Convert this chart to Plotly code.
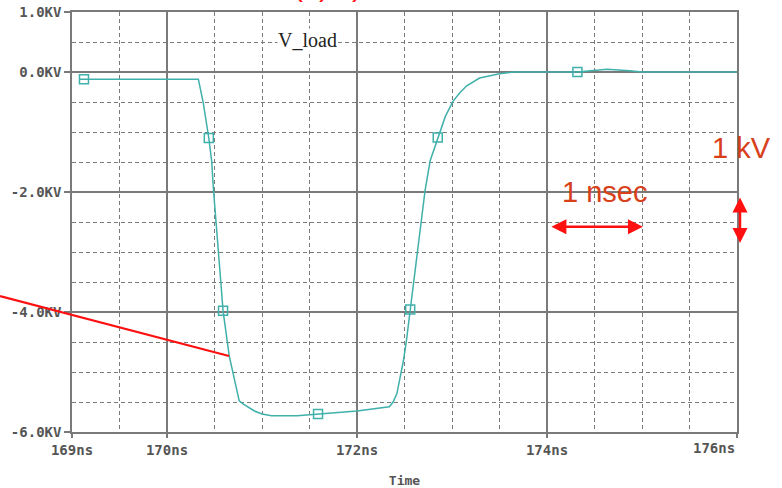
import plotly.graph_objects as go

# ---- data (time in ns, voltage in kV) ----
time_ns = [169.084, 170.33, 170.38, 170.44, 170.47, 170.49, 170.565, 170.59, 170.655, 170.69,
           170.716, 170.76, 170.8, 170.84, 170.92, 171.0, 171.1, 171.37, 171.59, 172.0, 172.34,
           172.38, 172.42, 172.45, 172.49, 172.52, 172.56, 172.6, 172.69, 172.716, 172.77,
           172.85, 172.93, 173.01, 173.08, 173.155, 173.29, 173.5, 173.65, 174.32, 174.48, 174.63,
           174.87, 175.0, 176.0]
v_load_kv = [-0.12, -0.12, -0.5, -1.1, -1.48, -1.98, -3.47, -3.98, -4.73, -4.98,
             -5.22, -5.48, -5.53, -5.57, -5.65, -5.70, -5.73, -5.73, -5.70, -5.65, -5.58,
             -5.50, -5.36, -5.13, -4.80, -4.48, -3.96, -3.47, -2.24, -1.98, -1.48,
             -1.09, -0.74, -0.49, -0.35, -0.23, -0.10, -0.03, 0.0, 0.0, 0.02, 0.045,
             0.02, 0.0, 0.0]
marker_t = [169.126, 170.44, 170.59, 171.59, 172.56, 172.85, 174.32]
marker_v = [-0.12, -1.1, -3.98, -5.70, -3.96, -1.09, 0.0]

x_tickvals = [169, 170, 172, 174, 176]
x_ticktext = ["169ns", "170ns", "172ns", "174ns", ""]
y_tickvals = [1, 0, -2, -4, -6]
y_ticktext = ["1.0KV", "0.0KV", "-2.0KV", "-4.0KV", "-6.0KV"]

TEAL = "#3fb0aa"
GRID = "#7a7a7a"
LBL = "#555555"
MONO = "DejaVu Sans Mono"
RED_TXT = "#d8401a"
RED = "#ff1010"

# plot-area geometry in pixels (for paper-referenced decorations)
PL, PR, PT, PB = 72, 737, 12, 432
def px_x(p):
    return (p - PL) / (PR - PL)
def px_y(p):
    return (PB - p) / (PB - PT)

fig = go.Figure()
fig.add_trace(go.Scatter(x=time_ns, y=v_load_kv, mode="lines",
                         line=dict(color=TEAL, width=1.5), hoverinfo="skip"))
fig.add_trace(go.Scatter(x=marker_t, y=marker_v, mode="markers",
                         marker=dict(symbol="square-open", size=9, color=TEAL,
                                     line=dict(width=1.5, color=TEAL)), hoverinfo="skip"))

axis_common = dict(showline=True, linecolor=GRID, linewidth=1.5, mirror=True,
                   showgrid=True, gridcolor=GRID, gridwidth=1.5, zeroline=False,
                   ticks="outside", tickcolor=GRID, tickwidth=1.5, automargin=False,
                   tickfont=dict(family=MONO, size=14, color=LBL, weight="bold"))

fig.update_xaxes(range=[169, 176], tickmode="array", tickvals=x_tickvals, ticktext=x_ticktext,
                 ticklen=4,
                 minor=dict(tick0=169, dtick=0.5, showgrid=True, gridcolor=GRID,
                            griddash="4px,3px", gridwidth=1, ticks=""),
                 title=dict(text="Time", font=dict(family=MONO, size=13, color=LBL, weight="bold"),
                            standoff=20),
                 **axis_common)
fig.update_yaxes(range=[-6, 1], tickmode="array", tickvals=y_tickvals, ticktext=y_ticktext,
                 ticklen=6,
                 minor=dict(tick0=0, dtick=0.5, showgrid=True, gridcolor=GRID,
                            griddash="4px,3px", gridwidth=1, ticks=""),
                 **axis_common)

annotations = [
    dict(x=176, y=0, xref="x", yref="paper", yshift=-6, text="176ns", showarrow=False,
         xanchor="right", yanchor="top",
         font=dict(family=MONO, size=14, color=LBL, weight="bold")),
    dict(x=171.48, y=0.53, xref="x", yref="y", text="V_load", showarrow=False,
         bgcolor="white", borderpad=0,
         font=dict(family="Liberation Serif", size=20, color="#222222")),
    dict(x=174.6, y=-2.0, xref="x", yref="y", text="1 nsec", showarrow=False,
         font=dict(family="Liberation Sans", size=29, color=RED_TXT), yanchor="middle"),
    dict(x=px_x(741), y=px_y(148), xref="paper", yref="paper", text="1 kV", showarrow=False,
         xanchor="center", yanchor="middle",
         font=dict(family="Liberation Sans", size=29, color=RED_TXT)),
    # double arrows
    dict(x=175.01, y=-2.58, ax=174.03, ay=-2.58, xref="x", yref="y", axref="x", ayref="y",
         text="", showarrow=True, arrowhead=2, arrowside="end+start", arrowsize=1.2,
         arrowwidth=2.5, arrowcolor=RED),
    dict(x=px_x(740), y=px_y(243), ax=0, ay=-47, xref="paper", yref="paper",
         axref="pixel", ayref="pixel",
         text="", showarrow=True, arrowhead=2, arrowside="end+start", arrowsize=1.2,
         arrowwidth=2.5, arrowcolor=RED),
]
# cut-off red text at top of the picture
for p, ch in [(291, "("), (324, ")"), (357, ")")]:
    annotations.append(dict(x=px_x(p), y=1.0, xref="paper", yref="paper", yshift=8,
                            text=ch, showarrow=False, yanchor="bottom",
                            font=dict(family="Liberation Sans", size=30, color=RED)))

shapes = [
    dict(type="line", xref="paper", yref="paper", x0=px_x(0), y0=px_y(296),
         x1=px_x(229), y1=px_y(356), line=dict(color=RED, width=2.2)),
]

fig.update_layout(width=782, height=488, margin=dict(l=PL, r=782 - PR, t=PT, b=488 - PB),
                  paper_bgcolor="white", plot_bgcolor="white", showlegend=False,
                  annotations=annotations, shapes=shapes)

fig.write_html("out.html", config={"displayModeBar": False},
               post_script="document.body.style.margin='0';document.body.style.padding='0';"
                           "document.body.style.overflow='hidden';")
